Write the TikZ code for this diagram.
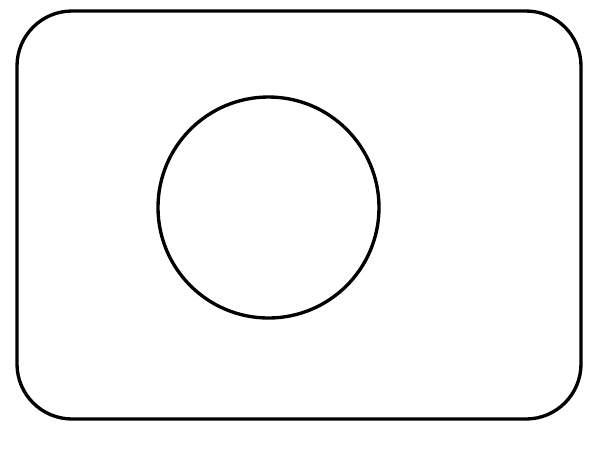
\documentclass[tikz,border=0pt]{standalone}
\usepackage{tikz}
\usetikzlibrary{positioning}

\begin{document}
\begin{tikzpicture}[x=0.01cm,y=-0.01cm,line width=0.95pt]
        \useasboundingbox (0,0) rectangle (600,466);
        \draw[rounded corners=0.55cm] (17,11) rectangle (581,419);
        \draw (268.5,207.5) circle [radius=110.5];
        \end{tikzpicture}
\end{document}
